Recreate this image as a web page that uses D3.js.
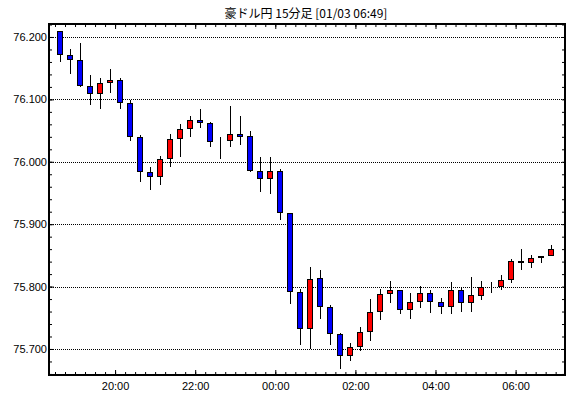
<!DOCTYPE html>
<html>
<head>
<meta charset="utf-8">
<script src="https://cdn.jsdelivr.net/npm/d3@7"></script>
<style>
  body { margin: 0; background: #fff; }
  svg { display: block; }
  .tick text { font-family: "Liberation Sans", Arial, sans-serif; font-size: 11px; fill: #000; }
</style>
</head>
<body>
<svg id="chart" width="570" height="398"></svg>
<script>
// === DATA (15分足, start time of each bar) ===
const times = [
  "2012-01-02T18:30", "2012-01-02T18:45", "2012-01-02T19:00", "2012-01-02T19:15",
  "2012-01-02T19:30", "2012-01-02T19:45", "2012-01-02T20:00", "2012-01-02T20:15",
  "2012-01-02T20:30", "2012-01-02T20:45", "2012-01-02T21:00", "2012-01-02T21:15",
  "2012-01-02T21:30", "2012-01-02T21:45", "2012-01-02T22:00", "2012-01-02T22:15",
  "2012-01-02T22:30", "2012-01-02T22:45", "2012-01-02T23:00", "2012-01-02T23:15",
  "2012-01-02T23:30", "2012-01-02T23:45", "2012-01-03T00:00", "2012-01-03T00:15",
  "2012-01-03T00:30", "2012-01-03T00:45", "2012-01-03T01:00", "2012-01-03T01:15",
  "2012-01-03T01:30", "2012-01-03T01:45", "2012-01-03T02:00", "2012-01-03T02:15",
  "2012-01-03T02:30", "2012-01-03T02:45", "2012-01-03T03:00", "2012-01-03T03:15",
  "2012-01-03T03:30", "2012-01-03T03:45", "2012-01-03T04:00", "2012-01-03T04:15",
  "2012-01-03T04:30", "2012-01-03T04:45", "2012-01-03T05:00", "2012-01-03T05:15",
  "2012-01-03T05:30", "2012-01-03T05:45", "2012-01-03T06:00", "2012-01-03T06:15",
  "2012-01-03T06:30", "2012-01-03T06:45"
];
const open = [
  76.209, 76.171, 76.163, 76.122, 76.108, 76.127, 76.131, 76.094, 76.039, 75.983,
  75.975, 76.004, 76.036, 76.052, 76.067, 76.062, 76.034, 76.034, 76.044, 76.041,
  75.986, 75.972, 75.985, 75.918, 75.791, 75.732, 75.813, 75.767, 75.724, 75.688,
  75.703, 75.728, 75.759, 75.788, 75.794, 75.762, 75.775, 75.789, 75.775, 75.767,
  75.794, 75.773, 75.785, 75.799, 75.799, 75.810, 75.841, 75.837, 75.845, 75.849
];
const high = [
  76.209, 76.181, 76.191, 76.139, 76.134, 76.149, 76.134, 76.099, 76.043, 75.991,
  76.009, 76.044, 76.060, 76.073, 76.085, 76.063, 76.039, 76.089, 76.073, 76.049,
  76.008, 76.007, 75.989, 75.918, 75.796, 75.831, 75.827, 75.770, 75.725, 75.709,
  75.735, 75.780, 75.796, 75.809, 75.795, 75.789, 75.801, 75.795, 75.781, 75.807,
  75.799, 75.815, 75.809, 75.808, 75.819, 75.844, 75.860, 75.850, 75.849, 75.866
];
const low = [
  76.160, 76.140, 76.120, 76.091, 76.084, 76.111, 76.084, 76.033, 75.967, 75.955,
  75.962, 75.992, 76.007, 76.039, 76.054, 76.023, 76.005, 76.024, 76.027, 75.984,
  75.952, 75.949, 75.907, 75.772, 75.707, 75.700, 75.748, 75.707, 75.668, 75.681,
  75.696, 75.713, 75.747, 75.773, 75.756, 75.748, 75.766, 75.757, 75.756, 75.756,
  75.760, 75.759, 75.778, 75.789, 75.794, 75.805, 75.826, 75.830, 75.837, 75.849
];
const close = [
  76.171, 76.163, 76.121, 76.108, 76.127, 76.131, 76.094, 76.039, 75.983, 75.975,
  76.004, 76.036, 76.052, 76.067, 76.062, 76.032, 76.033, 76.044, 76.040, 75.985,
  75.972, 75.985, 75.918, 75.791, 75.732, 75.812, 75.767, 75.724, 75.688, 75.703,
  75.728, 75.759, 75.788, 75.794, 75.762, 75.775, 75.789, 75.775, 75.767, 75.794,
  75.773, 75.786, 75.799, 75.799, 75.811, 75.841, 75.837, 75.845, 75.849, 75.860
];
const title = "豪ドル円 15分足 [01/03 06:49]";
const priceTicks = [75.7, 75.8, 75.9, 76.0, 76.1, 76.2];

const parse = d3.utcParse("%Y-%m-%dT%H:%M");
const bars = times.map((t, i) => ({
  t: parse(t), o: open[i], h: high[i], l: low[i], c: close[i]
}));

// === LAYOUT ===
const svg = d3.select("#chart");
const plotLeft = 49, plotRight = 565, plotTop = 24, plotBottom = 375;

const x = d3.scaleUtc()
  .domain([parse("2012-01-02T18:21"), parse("2012-01-03T07:14")])
  .range([plotLeft, plotRight]);

const y = d3.scaleLinear()
  .domain([75.6583, 76.2208])
  .range([plotBottom, plotTop]);

// bar drawn at the middle of its 15 minutes
const halfBar = 7.5 * 60 * 1000;
const bx = d => Math.round(x(new Date(d.t.getTime() + halfBar)) - 3);

// title
svg.append("text")
  .attr("x", 306)
  .attr("y", 18)
  .attr("text-anchor", "middle")
  .style("font-family", '"Noto Sans CJK JP", sans-serif')
  .style("font-size", "12px")
  .text(title);

// grid (dotted)
svg.append("g")
  .selectAll("line")
  .data(priceTicks)
  .enter()
  .append("line")
  .attr("x1", plotLeft)
  .attr("x2", plotRight)
  .attr("y1", d => Math.round(y(d)) + 0.5)
  .attr("y2", d => Math.round(y(d)) + 0.5)
  .attr("stroke", "#000")
  .attr("stroke-width", 1)
  .attr("stroke-dasharray", "1,1");

// minor / major ticks on all four sides
function strip(g) {
  g.select(".domain").remove();
  g.selectAll(".tick line").attr("stroke", "#000");
}

svg.append("g")
  .attr("transform", `translate(${plotLeft},0)`)
  .call(d3.axisLeft(y).ticks(30).tickSize(-3).tickFormat(""))
  .call(strip);
svg.append("g")
  .attr("transform", `translate(${plotRight},0)`)
  .call(d3.axisRight(y).ticks(30).tickSize(-3).tickFormat(""))
  .call(strip);
svg.append("g")
  .attr("transform", `translate(${plotLeft},0)`)
  .call(d3.axisLeft(y).tickValues(priceTicks).tickSize(-5).tickPadding(2).tickFormat(d3.format(".3f")))
  .call(strip);

svg.append("g")
  .attr("transform", `translate(0,${plotBottom})`)
  .call(d3.axisBottom(x).ticks(d3.utcMinute.every(15)).tickSize(-3).tickFormat(""))
  .call(strip);
svg.append("g")
  .attr("transform", `translate(0,${plotTop})`)
  .call(d3.axisTop(x).ticks(d3.utcMinute.every(15)).tickSize(-3).tickFormat(""))
  .call(strip);
svg.append("g")
  .attr("transform", `translate(0,${plotBottom})`)
  .call(d3.axisBottom(x).ticks(d3.utcHour.every(2)).tickSize(-5).tickPadding(7).tickFormat(d3.utcFormat("%H:%M")))
  .call(strip);
svg.append("g")
  .attr("transform", `translate(0,${plotTop})`)
  .call(d3.axisTop(x).ticks(d3.utcHour.every(2)).tickSize(-5).tickFormat(""))
  .call(strip);

// frame
svg.append("rect")
  .attr("x", plotLeft)
  .attr("y", plotTop)
  .attr("width", plotRight - plotLeft)
  .attr("height", plotBottom - plotTop)
  .attr("fill", "none")
  .attr("stroke", "#000")
  .attr("stroke-width", 2);

// candles
const candle = svg.append("g").selectAll("g")
  .data(bars)
  .enter()
  .append("g");

candle.append("line")
  .attr("x1", d => bx(d) + 3.5)
  .attr("x2", d => bx(d) + 3.5)
  .attr("y1", d => Math.round(y(d.h)))
  .attr("y2", d => Math.round(y(d.l)))
  .attr("stroke", "#000")
  .attr("stroke-width", 1);

candle.append("rect")
  .attr("x", d => bx(d) + 0.5)
  .attr("width", 5)
  .attr("y", d => Math.round(y(Math.max(d.o, d.c))) + 0.5)
  .attr("height", d => Math.max(0, Math.round(y(Math.min(d.o, d.c))) - Math.round(y(Math.max(d.o, d.c))) - 1))
  .attr("fill", d => d.c >= d.o ? "#ff0000" : "#0000ff")
  .attr("stroke", "#000")
  .attr("stroke-width", 1);
</script>
</body>
</html>
